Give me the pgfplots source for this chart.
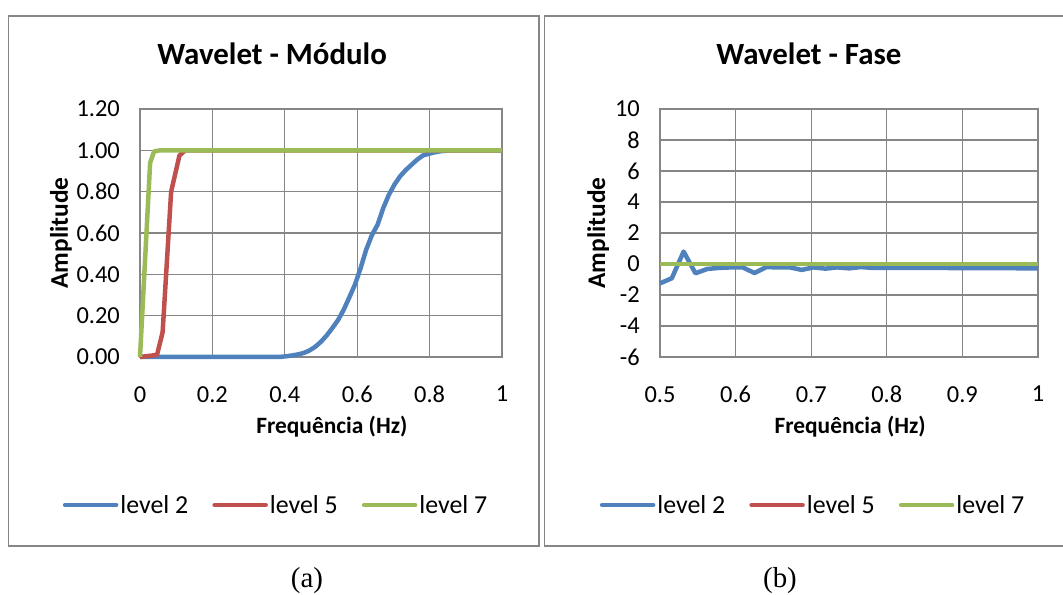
\documentclass[border=0pt]{standalone}
\usepackage{fontspec}
\setmainfont{Carlito}
\newfontfamily\capfont{Liberation Serif}
\usepackage{pgfplots}
\pgfplotsset{compat=1.18}
\definecolor{xblue}{RGB}{79,129,189}
\definecolor{xred}{RGB}{192,80,77}
\definecolor{xgreen}{RGB}{155,187,89}
\definecolor{xgrid}{RGB}{134,134,134}
\newcommand{\tickfont}{\fontsize{24.5}{28}\selectfont}
\pgfplotsset{
  excel/.style={
    scale only axis, height=248bp, anchor=south west, clip=false,
    axis line style={draw=xgrid, line width=1.3bp},
    grid=major, major grid style={draw=xgrid, line width=1.3bp},
    major tick length=0pt, tick style={draw=none},
    /pgf/number format/assume math mode=true,
    xticklabel={\tickfont\pgfmathprintnumber{\tick}},
    yticklabel={\tickfont\pgfmathprintnumber{\tick}},
    xticklabel style={font=\tickfont, anchor=north, inner sep=0pt, yshift=-29bp},
    yticklabel style={font=\tickfont, anchor=east, inner sep=0pt, xshift=-20bp},
    title style={font=\bfseries\fontsize{31}{36}\selectfont, anchor=base, inner sep=0pt, yshift=0pt},
    xlabel style={font=\bfseries\fontsize{23.5}{27}\selectfont, anchor=base, inner sep=0pt},
    ylabel style={font=\bfseries\fontsize{25.5}{30}\selectfont, anchor=base, inner sep=0pt},
    legend columns=3,
    legend style={draw=none, fill=none, anchor=center,
      font=\fontsize{26}{30}\selectfont,
      nodes={inner sep=2bp},
      /tikz/every even column/.append style={column sep=22bp}},
    legend image code/.code={\draw[##1, line cap=round] (0bp,0bp) -- (51bp,0bp);},
    every axis plot/.append style={line width=4.5bp, line join=round, no markers},
  }
}
\begin{document}
\begin{tikzpicture}
\useasboundingbox (0,0) rectangle (1063bp,595bp);
\draw[xgrid, line width=1.3bp] (8.5bp,49bp) rectangle (539bp,579bp);
\draw[xgrid, line width=1.3bp] (544.5bp,49bp) rectangle (1075bp,579bp);
\node[font=\capfont\fontsize{29}{33}\selectfont, anchor=base] at (307bp,8bp) {(a)};
\node[font=\capfont\fontsize{29}{33}\selectfont, anchor=base] at (780bp,8bp) {(b)};

\begin{axis}[excel, at={(140bp,238bp)}, width=362bp,
  xmin=0, xmax=1, ymin=0, ymax=1.2,
  xtick={0,0.2,0.4,0.6,0.8,1}, ytick={0,0.2,0.4,0.6,0.8,1,1.2},
  yticklabel style={/pgf/number format/.cd, fixed, fixed zerofill, precision=2},
  title={Wavelet - Módulo},
  title style={at={(axis description cs:0.365,1.155)}},
  xlabel={Frequência (Hz)},
  xlabel style={at={(axis description cs:0.53,-0.31)}},
  ylabel={Amplitude},
  ylabel style={at={(axis description cs:-0.199,0.5)}},
  legend style={at={(axis description cs:0.376,-0.597)}},
]
\addplot[xblue] coordinates {
(0,0) (0.375,0) (0.390625,0.001) (0.40625,0.004) (0.421875,0.008) (0.4375,0.013)
(0.453125,0.02) (0.46875,0.032) (0.484375,0.05) (0.5,0.074) (0.515625,0.104)
(0.53125,0.14) (0.546875,0.178) (0.5625,0.228) (0.578125,0.288) (0.59375,0.35)
(0.609375,0.43) (0.625,0.52) (0.640625,0.59) (0.65625,0.64) (0.671875,0.72)
(0.6875,0.785) (0.703125,0.835) (0.71875,0.875) (0.734375,0.905) (0.75,0.93)
(0.765625,0.955) (0.78125,0.975) (0.796875,0.983) (0.8125,0.99) (0.828125,0.995)
(0.84375,0.998) (0.859375,1.0) (1,1.0)};
\addlegendentry{level 2}
\addplot[xred] coordinates {
(0,0) (0.047,0.01) (0.0625,0.12) (0.086,0.80) (0.109,0.975) (0.125,1.0) (1,1.0)};
\addlegendentry{level 5}
\addplot[xgreen] coordinates {
(0,0) (0.028,0.94) (0.039,0.995) (0.055,1.0) (1,1.0)};
\addlegendentry{level 7}
\end{axis}

\begin{axis}[excel, at={(660bp,238bp)}, width=378bp,
  xmin=0.5, xmax=1, ymin=-6, ymax=10,
  xtick={0.5,0.6,0.7,0.8,0.9,1}, ytick={-6,-4,-2,0,2,4,6,8,10},
  title={Wavelet - Fase},
  title style={at={(axis description cs:0.394,1.155)}},
  xlabel={Frequência (Hz)},
  xlabel style={at={(axis description cs:0.503,-0.31)}},
  ylabel={Amplitude},
  ylabel style={at={(axis description cs:-0.1455,0.5)}},
  legend style={at={(axis description cs:0.405,-0.597)}},
]
\addplot[xblue] coordinates {
(0.5,-1.25) (0.515625,-0.92) (0.53125,0.8) (0.546875,-0.6) (0.5625,-0.32)
(0.578125,-0.25) (0.59375,-0.22) (0.609375,-0.22) (0.625,-0.58) (0.640625,-0.2)
(0.65625,-0.22) (0.671875,-0.22) (0.6875,-0.38) (0.703125,-0.22) (0.71875,-0.3)
(0.734375,-0.22) (0.75,-0.28) (0.765625,-0.2) (0.78125,-0.25) (0.8,-0.25)
(0.9,-0.26) (1,-0.28)};
\addlegendentry{level 2}
\addplot[xred] coordinates {(0.5,0) (1,0)};
\addlegendentry{level 5}
\addplot[xgreen] coordinates {(0.5,0) (1,0)};
\addlegendentry{level 7}
\end{axis}
\end{tikzpicture}
\end{document}
